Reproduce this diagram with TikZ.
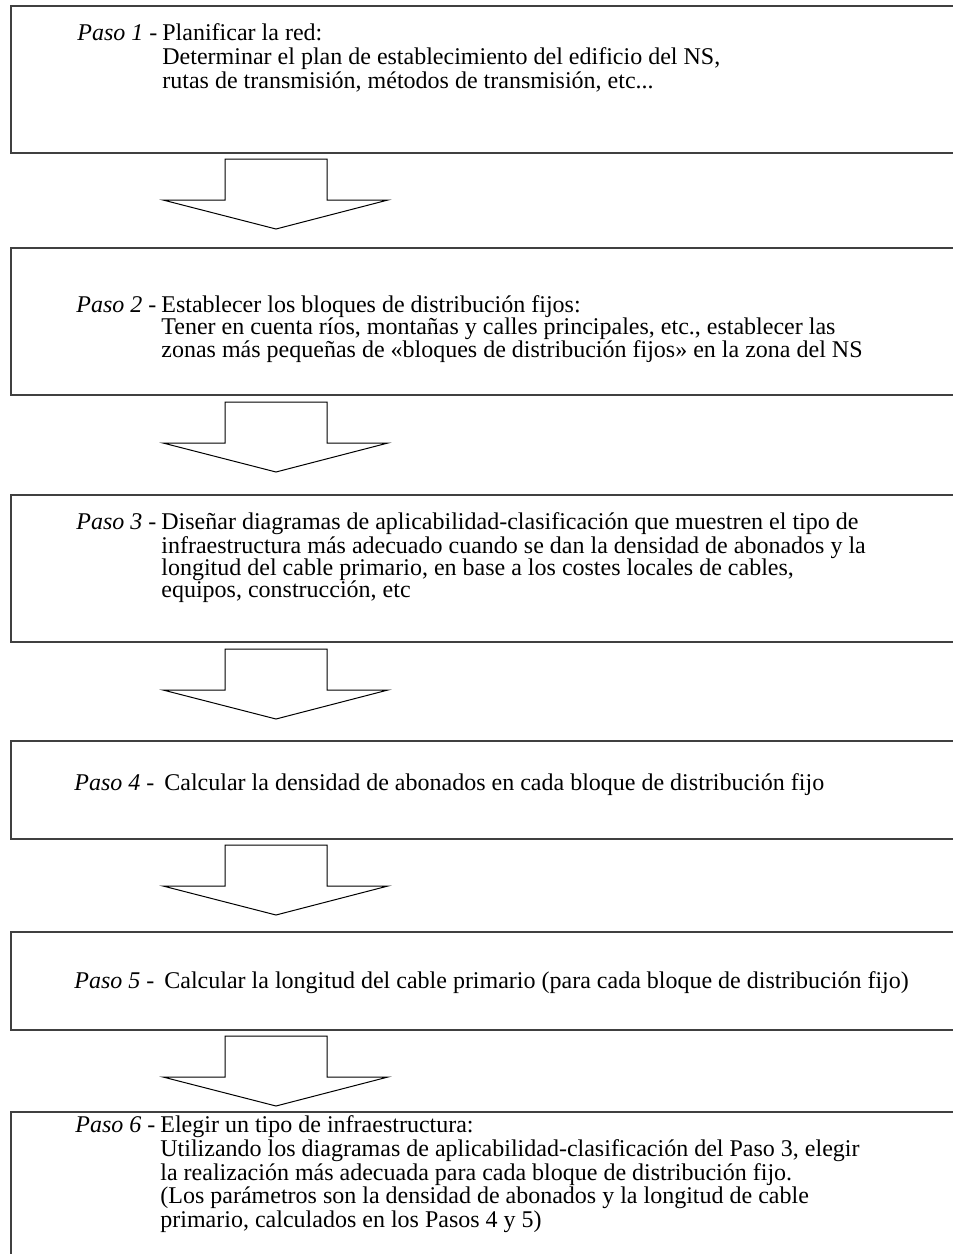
\documentclass[tikz,border=0pt]{standalone}
\usepackage{fontspec}
\setmainfont{Liberation Serif}
\newcommand{\paso}[3][11pt]{\makebox[42.5pt][l]{\textit{Paso #2} -}\parbox[t]{420pt}{\fontsize{12pt}{#1}\selectfont\raggedright #3}}
\begin{document}
\begin{tikzpicture}[
	x=0.5pt,
	y=-0.5pt,
	box/.style={draw=black!75,line width=1pt,minimum width=500pt,inner sep=0pt,anchor=north west},
	steptext/.style={inner sep=0pt,anchor=base west,font=\fontsize{12pt}{12pt}\selectfont},
	pics/downarrow/.style={code={
		\draw[line width=0.5pt,fill=white] (-51,0) -- (51,0) -- (51,41) -- (112,41) -- (0,70) -- (-113,41) -- (-51,41) -- cycle;
	}}
	]
	\useasboundingbox (0,0) rectangle (953,1254);
	\clip (0,0) rectangle (953,1254);
	\node[box,minimum height=73.5pt] (box1) at (10,5) {};
	\node[box,minimum height=73.5pt] (box2) at (10,247) {};
	\node[box,minimum height=73.5pt] (box3) at (10,494) {};
	\node[box,minimum height=49pt] (box4) at (10,740) {};
	\node[box,minimum height=49pt] (box5) at (10,931) {};
	\node[box,minimum height=100pt] (box6) at (10,1111) {};
	\node[steptext] (t1) at (77,40) {\paso[12pt]{1}{Planificar la red:\\Determinar el plan de establecimiento del edificio del NS,\\rutas de transmisión, métodos de transmisión, etc...}};
	\node[steptext] (t2) at (76,312) {\paso[11.25pt]{2}{Establecer los bloques de distribución fijos:\\Tener en cuenta ríos, montañas y calles principales, etc., establecer las\\zonas más pequeñas de «bloques de distribución fijos» en la zona del NS}};
	\node[steptext] (t3) at (76,529) {\paso[11pt]{3}{Diseñar diagramas de aplicabilidad-clasificación que muestren el tipo de\\infraestructura más adecuado cuando se dan la densidad de abonados y la\\longitud del cable primario, en base a los costes locales de cables,\\equipos, construcción, etc}};
	\node[steptext] (t4) at (74,790) {\paso{4}{\hspace*{2.5pt}Calcular la densidad de abonados en cada bloque de distribución fijo}};
	\node[steptext] (t5) at (74,988) {\paso{5}{\hspace*{2.5pt}Calcular la longitud del cable primario (para cada bloque de distribución fijo)}};
	\node[steptext] (t6) at (75,1132) {\paso[10.5pt]{6}{Elegir un tipo de infraestructura:\\Utilizando los diagramas de aplicabilidad-clasificación del Paso 3, elegir\\la realización más adecuada para cada bloque de distribución fijo.\\(Los parámetros son la densidad de abonados y la longitud de cable\\primario, calculados en los Pasos 4 y 5)}};
	\pic at ([shift={(266,5)}]box1.south west) {downarrow};
	\pic at ([shift={(266,6)}]box2.south west) {downarrow};
	\pic at ([shift={(266,6)}]box3.south west) {downarrow};
	\pic at ([shift={(266,5)}]box4.south west) {downarrow};
	\pic at ([shift={(266,5)}]box5.south west) {downarrow};
\end{tikzpicture}
\end{document}
